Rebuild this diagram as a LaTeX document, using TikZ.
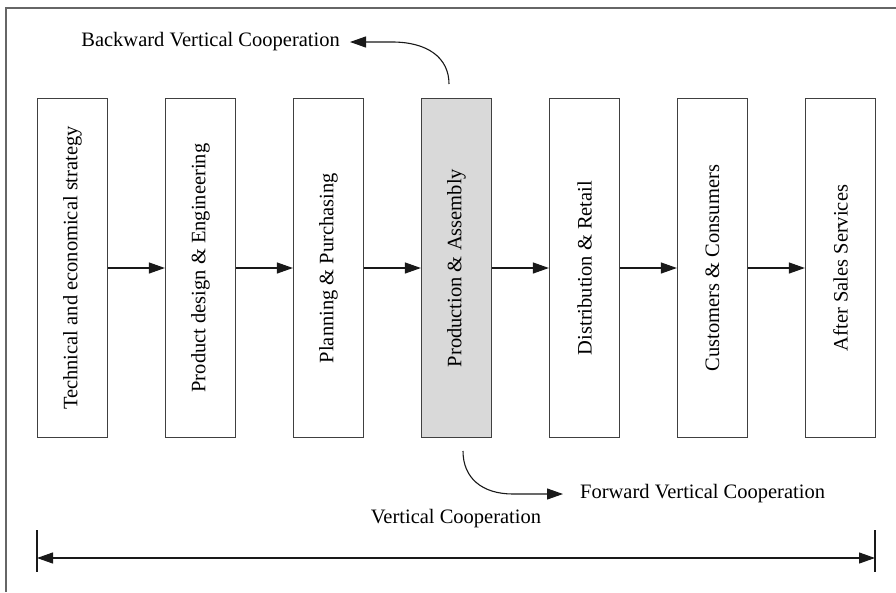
\documentclass[tikz,border=0pt]{standalone}
\usepackage{fontspec}
\setmainfont{Liberation Serif}
\usetikzlibrary{arrows.meta,positioning}

\tikzset{
  stage/.style={draw=black!75,line width=1.2pt,minimum width=70pt,minimum height=339pt,inner sep=0pt},
  flow/.style={black!90,line width=1.1pt,-{Triangle[length=16pt,width=11pt]}},
  note/.style={inner sep=0pt},
}

\begin{document}
\begin{tikzpicture}[x=1pt,y=-1pt,font=\fontsize{20.5}{24}\selectfont,node distance=56.8pt]
  \useasboundingbox (0,0) rectangle (896,592);
  \draw[black!60,line width=1.2pt] (6,592) -- (6,8) -- (896,8);

  \node[stage] (s1) at (72.5,268) {\rotatebox{90}{Technical and economical strategy}};
  \node[stage,right=of s1] (s2) {\rotatebox{90}{Product design \& Engineering}};
  \node[stage,right=of s2] (s3) {\rotatebox{90}{Planning \& Purchasing}};
  \node[stage,right=of s3,fill=black!15] (s4) {\rotatebox{90}{Production \& Assembly}};
  \node[stage,right=of s4] (s5) {\rotatebox{90}{Distribution \& Retail}};
  \node[stage,right=of s5] (s6) {\rotatebox{90}{Customers \& Consumers}};
  \node[stage,right=of s6] (s7) {\rotatebox{90}{After Sales Services}};
  \foreach \a/\b in {s1/s2,s2/s3,s3/s4,s4/s5,s5/s6,s6/s7}
    \draw[flow] (\a) -- (\b);

  \node[note,anchor=east] (bw) at (340,42) {Backward Vertical Cooperation};
  \coordinate (bwstart) at (449,84);
  \draw[flow,shorten >=10pt] (bwstart) .. controls (449,58) and (428,42) .. (392,42) -- (bw);

  \node[note,anchor=west] (fw) at (580,494) {Forward Vertical Cooperation};
  \coordinate (fwstart) at (463,451);
  \draw[flow,shorten >=17pt] (fwstart) .. controls (463,478) and (482,494) .. (513,494) -- (fw);

  \coordinate (vcl) at (37,558);
  \coordinate (vcr) at (875,558);
  \draw[black!90,line width=1.1pt] (vcl) ++(0,-28) -- ++(0,42);
  \draw[black!90,line width=1.1pt] (vcr) ++(0,-28) -- ++(0,42);
  \draw[flow,{Triangle[length=16pt,width=11pt]}-{Triangle[length=16pt,width=11pt]}] (vcl) -- (vcr);
  \node[note] (vc) at (456,519) {Vertical Cooperation};
\end{tikzpicture}
\end{document}
